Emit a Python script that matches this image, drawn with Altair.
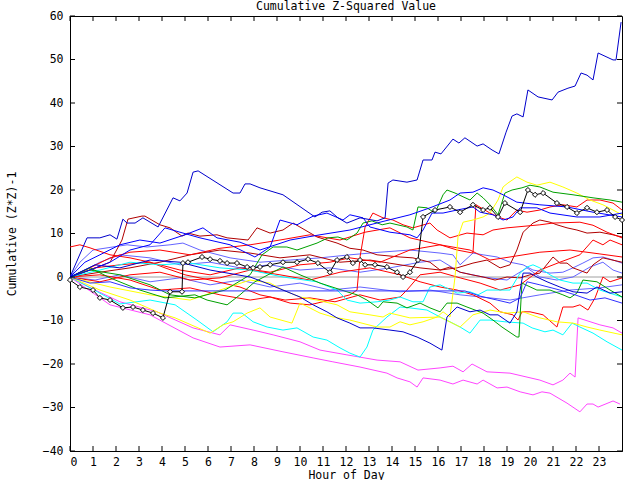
import altair as alt
import pandas as pd

TITLE = "Cumulative Z-Squared Value"
HOUR_TICKS = list(range(0, 24))
VALUE_TICKS = list(range(-40, 61, 10))

TOP_BLUE = [(0,0),(0.74,9.0),(1.30,9.0),(1.74,9.7),(2.04,8.7),(2.30,13.3),(2.48,12.4),(2.83,12.4),(3.17,13.6),(3.83,11.5),(4.48,18.2),(4.78,17.5),(5.09,19.3),(5.35,24.1),(5.57,24.4),(7.09,19.3),(7.39,19.3),(7.61,21.4),(7.83,21.4),(8.26,20.5),(9.26,18.9),(10.65,13.8),(10.96,14.9),(11.30,15.2),(11.65,13.6),(12.04,12.4),(12.61,13.6),(13.35,12.9),(13.70,13.6),(13.83,21.6),(14.04,22.3),(14.65,21.8),(15.09,22.3),(15.35,26.9),(15.74,26.9),(15.87,28.7),(16.13,28.3),(16.65,31.7),(16.91,30.8),(17.17,32.0),(17.70,30.1),(17.96,30.6),(18.35,29.2),(18.65,28.3),(18.96,33.3),(19.22,37.0),(19.43,37.5),(19.70,36.8),(19.91,43.0),(20.35,41.4),(20.96,40.7),(21.22,42.5),(21.65,43.4),(21.96,43.9),(22.22,46.9),(22.48,46.4),(22.74,45.3),(22.96,51.5),(23.61,49.9),(23.74,49.9),(23.96,58.6)]

BLACK = [(0,-0.7),(0.43,-2.3),(1.0,-3.0),(1.30,-4.8),(1.74,-5.3),(2.30,-7.1),(2.74,-6.9),(3.17,-7.6),(3.61,-8.3),(4.04,-9.4),(4.35,-3.4),(4.87,-3.4),(4.91,3.2),(5.13,3.4),(5.74,4.6),(6.09,4.1),(6.52,3.7),(6.83,3.2),(7.26,3.2),(7.70,2.3),(7.96,2.1),(8.26,2.3),(8.70,2.8),(9.26,3.4),(9.87,3.4),(10.35,4.1),(10.78,3.2),(11.30,1.1),(11.61,3.9),(12.04,4.6),(12.30,3.2),(12.61,3.9),(12.83,2.8),(13.26,2.8),(13.78,2.3),(14.22,1.1),(14.48,0),(14.78,1.1),(15.13,3.9),(15.35,13.8),(15.87,15.4),(16.52,16.1),(16.96,14.9),(17.52,16.6),(17.96,15.4),(18.26,15.9),(18.61,13.8),(18.91,17.0),(19.57,14.9),(19.91,20.0),(20.22,18.9),(20.57,19.3),(21.17,17.0),(21.61,16.1),(22.04,14.7),(22.48,15.9),(22.91,14.9),(23.35,15.4),(23.70,13.8),(24.0,13.1)]

MAGENTA_UPPER = [(0,0),(1.09,-3.0),(2.17,-5.7),(3.78,-8.0),(5.35,-11.7),(6.52,-13.3),(6.96,-11.0),(7.96,-12.2),(8.83,-13.3),(10.0,-14.9),(10.87,-16.8),(12.04,-17.9),(13.35,-19.1),(14.35,-19.5),(15.13,-21.4),(16.09,-20.9),(16.65,-20.5),(17.09,-21.8),(17.48,-20.0),(18.13,-21.8),(19.13,-22.1),(20.43,-23.7),(21.0,-24.8),(21.43,-23.7),(21.74,-22.1),(21.96,-23.0),(22.09,-9.4),(23.04,-11.0),(23.61,-11.7),(24.0,-12.9)]

MAGENTA_LOWER = [(0,0),(1.74,-6.4),(3.48,-8.7),(5.35,-14.0),(6.52,-16.1),(7.83,-15.6),(9.26,-17.2),(10.57,-18.6),(11.43,-19.5),(12.61,-20.7),(13.78,-22.1),(14.22,-23.2),(14.78,-24.1),(15.09,-25.3),(15.35,-23.2),(16.09,-23.7),(16.65,-24.6),(17.09,-23.7),(17.70,-24.6),(17.96,-23.7),(18.57,-25.5),(19.0,-25.3),(19.57,-26.4),(20.13,-27.1),(20.52,-26.4),(20.87,-26.7),(21.61,-29.0),(22.17,-31.0),(22.48,-29.2),(22.74,-29.2),(22.96,-29.9),(23.61,-28.5),(23.91,-29.2)]

CYAN_LOWER = [(0,0),(2.17,-6.2),(3.48,-5.3),(4.57,-6.4),(5.52,-9.9),(6.22,-12.6),(6.83,-10.3),(7.09,-8.3),(7.48,-8.3),(7.96,-10.3),(8.57,-11.5),(9.26,-12.2),(9.87,-11.7),(10.57,-13.8),(11.17,-14.5),(11.74,-16.3),(12.17,-17.5),(12.61,-18.4),(12.91,-16.1),(13.17,-12.2),(13.78,-9.2),(14.35,-6.9),(14.78,-7.1),(15.52,-7.6),(16.09,-9.2),(16.52,-10.3),(16.96,-11.5),(17.39,-12.9),(17.83,-9.9),(18.26,-9.9),(18.91,-10.3),(19.70,-10.6),(20.09,-11.7),(20.65,-12.6),(21.0,-12.2),(21.43,-13.3),(21.83,-10.6),(22.17,-11.5),(22.74,-12.9),(23.35,-14.9),(24.0,-16.8)]

CYAN_UPPER = [(0,0),(1.30,1.6),(2.61,3.4),(3.91,2.8),(5.22,3.2),(6.52,2.1),(7.83,1.6),(9.26,0),(10.74,-1.1),(11.61,-3.0),(12.04,-5.3),(12.61,-6.0),(13.35,-5.7),(13.91,-5.3),(14.35,-4.6),(14.91,-5.7),(15.35,-5.7),(15.65,-2.3),(16.09,-1.8),(16.83,-3.7),(17.39,-3.4),(17.74,-4.1),(18.13,-3.0),(19.13,-3.0),(19.57,0.9),(19.87,2.3),(20.13,2.8),(20.43,2.1),(20.87,0.5),(21.30,-0.7),(21.87,-1.4),(22.48,-1.4),(23.04,-3.0),(24.0,-4.6)]

YELLOW_HIGH = [(0,0),(1.30,-3.0),(2.61,-5.3),(3.91,-8.3),(4.57,-9.4),(6.09,-12.9),(6.65,-11.0),(7.09,-10.3),(7.70,-8.3),(8.26,-7.1),(8.70,-9.2),(9.65,-10.6),(10.0,-6.0),(10.35,-6.9),(10.87,-8.3),(11.43,-9.2),(12.17,-9.9),(13.35,-11.5),(13.91,-11.5),(14.35,-10.3),(14.78,-11.0),(15.35,-10.3),(15.96,-9.2),(16.22,-8.0),(16.52,-9.2),(16.74,0),(16.87,9.2),(17.09,12.6),(17.52,13.1),(17.96,13.8),(18.26,14.7),(18.61,17.7),(18.83,20.7),(19.04,21.6),(19.43,23.0),(19.87,21.8),(20.30,21.1),(20.87,21.8),(21.43,20.7),(22.04,19.3),(22.61,17.7),(23.17,16.6),(23.61,15.4),(24.0,14.3)]

YELLOW_LOW = [(0,0),(1.74,-2.3),(3.48,-4.1),(5.22,-5.3),(6.52,-3.0),(7.83,-0.7),(8.70,-1.4),(9.26,-3.0),(10.0,-4.6),(10.74,-5.3),(11.61,-6.4),(12.17,-8.0),(13.04,-8.7),(13.61,-9.2),(13.91,-8.3),(14.78,-9.4),(16.09,-9.2),(16.96,-11.5),(17.52,-8.7),(18.26,-7.6),(19.0,-8.3),(19.70,-8.0),(20.43,-9.4),(21.17,-10.3),(21.87,-10.6),(22.48,-11.5),(23.04,-12.2),(24.0,-13.3)]

GREEN_HIGH = [(0,0),(0.87,1.6),(2.17,0.5),(3.48,-1.8),(4.35,-4.1),(5.43,-4.8),(6.74,-3.0),(7.83,0.5),(8.35,5.1),(8.83,6.9),(9.43,6.9),(9.87,6.2),(10.74,7.8),(11.22,9.0),(11.65,9.2),(12.04,8.5),(12.48,10.1),(12.74,12.4),(13.13,12.9),(13.57,12.0),(13.91,12.4),(14.65,11.5),(14.91,10.8),(15.13,16.1),(15.52,15.9),(15.87,14.7),(16.22,18.9),(16.39,20.0),(16.74,19.3),(17.39,17.7),(17.70,19.3),(17.96,18.2),(18.26,16.6),(18.61,14.3),(18.91,19.3),(19.22,20.0),(19.65,20.5),(20.0,21.1),(20.43,20.7),(21.0,19.5),(21.87,18.9),(22.74,18.2),(23.48,17.7),(24.0,17.2)]

GREEN_LOW = [(0,0),(0.87,2.1),(1.74,-0.2),(3.04,-3.0),(4.13,-4.8),(5.43,-4.1),(5.96,-5.3),(6.83,-6.4),(7.39,-4.1),(8.04,-1.1),(9.0,1.6),(9.26,2.3),(10.0,0.5),(10.87,-1.4),(12.04,-3.4),(12.48,-4.1),(12.91,-5.3),(13.39,-7.1),(13.61,-5.7),(14.22,-6.0),(14.65,-7.1),(15.22,-6.0),(15.65,-7.1),(16.09,-8.0),(16.39,-6.0),(16.83,-6.0),(17.26,-6.9),(17.96,-8.3),(18.39,-9.9),(18.78,-11.5),(19.43,-13.8),(19.52,-13.8),(19.65,-1.4),(20.30,-3.0),(20.87,-3.0),(21.43,-4.1),(21.74,-4.8),(22.04,-3.7),(22.30,-0.7),(22.91,-1.1),(23.48,-3.0),(24.0,-4.6)]

BLUE_DEEP = [(0,0),(1.09,2.8),(2.17,2.1),(3.48,3.9),(4.78,3.4),(6.09,1.6),(7.83,0),(8.39,-1.1),(9.26,-3.0),(10.0,-4.6),(10.57,-6.4),(11.17,-8.0),(11.61,-9.4),(12.17,-10.6),(12.61,-11.7),(13.17,-11.7),(13.91,-12.2),(14.48,-12.6),(15.09,-13.8),(15.65,-15.2),(16.17,-16.8),(16.30,-12.2),(16.39,-9.2),(16.83,-6.9),(17.39,-8.0),(17.83,-7.6),(18.26,-8.7),(18.61,-8.7),(19.13,-10.6),(19.43,-8.0),(19.57,-3.0),(19.70,0.9),(20.0,0.9),(20.30,0),(20.74,-1.1),(21.30,-2.3),(21.87,-3.4),(22.48,-3.7),(22.91,-2.3),(23.48,-3.7),(24.0,-3.4)]

BLUE_FLAT = [(0,0),(0.87,-1.4),(1.74,-1.1),(2.61,-2.5),(3.48,-3.0),(4.13,-3.2),(17.17,-3.2),(17.83,-4.4),(18.57,-5.3),(19.13,-6.0),(19.57,-4.8),(19.87,-1.1),(20.43,-1.8),(21.30,-3.0),(21.96,-4.1),(22.61,-5.3),(23.26,-4.8),(24.0,-6.0)]

BLUE_MID = [(0,0),(0.87,1.6),(1.74,3.4),(2.61,6.2),(3.48,7.4),(4.13,11.3),(4.78,10.3),(5.65,9.0),(6.96,7.4),(8.04,4.6),(8.70,6.9),(9.13,13.1),(9.87,12.0),(10.57,14.0),(11.17,14.7),(11.87,13.1),(12.17,14.3),(12.74,13.6),(13.04,11.5),(13.91,10.3),(14.78,9.7),(15.09,9.0),(15.35,10.8),(15.74,14.7),(16.22,14.7),(16.83,15.4),(17.52,16.1),(17.83,14.9),(18.39,14.3),(18.83,13.1),(19.26,13.8),(19.57,15.9),(20.30,15.9),(20.87,14.7),(22.04,13.8),(23.04,13.8),(24.0,14.7)]

BLUE_UP = [(0,0),(0.65,3.4),(1.30,5.1),(2.17,7.4),(3.04,8.5),(3.91,7.8),(5.0,9.7),(5.78,11.3),(6.39,9.0),(7.39,8.0),(8.26,6.2),(9.57,8.5),(10.87,9.7),(12.17,10.8),(13.48,12.6),(14.78,14.3),(15.65,15.9),(16.52,17.7),(16.96,19.3),(17.52,19.5),(17.96,20.5),(18.39,20.0),(18.83,18.9),(19.43,17.2),(20.43,16.6),(21.61,16.1),(22.74,14.9),(24.0,13.8)]

GRAY_ZERO = [(0,0),(24,0)]

RED_A = [(0,0),(1.30,0.5),(2.61,-0.7),(3.91,-3.0),(5.22,-2.5),(6.52,-4.1),(7.83,-5.3),(8.70,-4.6),(9.57,-6.0),(10.43,-6.4),(11.30,-5.3),(12.17,-4.1),(12.48,-3.0),(12.61,4.6),(12.83,11.5),(13.17,14.7),(13.61,13.6),(14.04,13.1),(14.48,12.0),(14.91,11.3),(15.65,12.4),(15.96,10.8),(16.52,9.0),(17.26,10.1),(17.96,9.7),(18.39,10.8),(19.0,11.3),(20.43,12.0),(21.0,12.4),(22.17,12.6),(22.74,11.9),(23.35,10.3),(24.0,9.0)]

RED_B = [(0,0),(1.09,2.1),(2.17,2.8),(3.48,3.4),(4.78,1.6),(6.09,0.5),(7.39,2.1),(8.70,1.1),(10.0,2.8),(11.30,3.4),(12.17,4.4),(13.48,3.4),(14.78,6.2),(16.09,7.4),(16.83,6.2),(17.52,5.5),(17.65,16.6),(18.26,14.7),(18.61,13.8),(19.0,13.1),(19.43,15.4),(19.87,14.9),(20.43,15.4),(20.87,16.1),(21.43,16.6),(22.04,16.1),(22.48,17.7),(23.04,17.7),(23.61,17.0),(24.0,15.4)]

RED_C = [(0,0),(1.30,-1.1),(2.61,0.5),(3.91,1.1),(5.22,-0.7),(6.52,-0.2),(7.83,1.6),(9.13,0.5),(10.43,-0.7),(11.74,1.1),(13.04,2.1),(14.35,0.5),(15.22,-1.1),(16.09,-2.3),(16.83,-3.0),(17.52,-4.1),(18.26,-6.0),(18.70,-8.0),(19.26,-8.7),(19.48,-9.9),(19.65,-8.0),(20.0,-8.0),(20.57,-8.7),(21.17,-11.5),(21.43,-6.9),(21.87,-6.9),(22.17,-6.4),(22.52,-7.6),(22.83,-4.8),(23.17,0),(23.48,-1.1),(24.0,-0.2)]

RED_E = [(0,6.9),(0.43,7.4),(0.87,6.7),(1.74,5.1),(2.61,4.4),(3.48,3.4),(4.13,2.1),(5.0,0.5),(6.09,-0.7),(7.39,-2.3),(8.26,-4.1),(9.35,-5.3),(10.43,-4.8),(11.52,-5.7),(12.61,-4.1),(13.48,-5.3),(14.35,-4.6),(14.65,-3.0),(15.22,0.5),(16.09,1.1),(16.96,-0.2),(17.83,-1.4),(18.70,-3.0),(19.57,-1.8),(20.43,1.6),(21.30,3.4),(22.17,5.1),(22.74,8.5),(23.17,7.4),(23.48,8.5),(24.0,7.4)]

RED_F = [(0,0),(0.87,2.1),(1.74,4.4),(2.61,5.7),(3.91,6.2),(5.22,5.1),(6.52,6.6),(7.83,7.4),(9.13,8.5),(10.43,9.7),(11.74,8.5),(12.83,10.3),(13.91,11.3),(14.78,9.0),(16.09,7.4),(17.39,6.2),(18.26,3.9),(19.13,4.6),(20.43,5.7),(21.74,6.2),(23.04,5.3),(24.0,4.6)]

DARKRED_A = [(0,0),(0.87,1.6),(1.74,3.4),(2.26,8.5),(2.52,13.3),(3.13,14.0),(3.26,14.0),(3.91,12.0),(4.35,11.3),(4.87,9.4),(5.13,10.1),(5.65,9.4),(6.39,9.7),(6.83,9.0),(7.74,8.5),(8.13,11.3),(8.70,10.1),(9.26,10.8),(9.70,12.4),(10.74,9.2),(11.61,7.8),(12.17,6.6),(12.74,6.2),(13.35,5.1),(14.35,4.6),(14.91,4.4),(15.65,3.4),(16.09,1.6),(16.83,2.1),(17.52,3.2),(18.13,3.9),(18.70,2.1),(19.13,2.8),(19.43,6.2),(19.70,10.3),(20.13,12.4),(20.43,13.1),(20.87,12.6),(21.17,12.0),(21.61,11.3),(22.04,10.8),(22.48,10.1),(23.04,10.3),(23.61,9.7),(24.0,9.2)]

DARKRED_B = [(0,0),(1.30,1.1),(2.61,2.1),(3.91,3.4),(5.22,5.1),(6.52,6.2),(7.83,5.5),(9.13,4.4),(10.43,5.1),(11.74,3.4),(13.04,3.9),(14.35,2.8),(15.22,2.1),(16.09,1.6),(16.52,2.3),(16.96,1.1),(17.48,0.5),(17.96,0),(18.48,-0.7),(19.0,0),(19.57,-0.2),(20.0,0.5),(20.43,0.9),(21.0,4.6),(21.30,3.2),(21.61,3.2),(21.87,2.1),(22.48,0.9),(22.74,2.8),(23.17,4.4),(24.0,3.4)]

LIGHTBLUE_A = [(0,0),(0.43,3.4),(1.0,6.2),(2.48,7.4),(3.35,6.9),(4.35,7.4),(4.91,7.8),(5.65,6.2),(6.96,4.4),(8.26,3.4),(9.57,3.9),(10.87,4.4),(12.17,5.1),(13.48,5.7),(14.78,6.2),(16.09,5.5),(16.65,5.1),(16.96,2.8),(17.52,5.5),(17.96,5.1),(18.57,4.6),(19.13,3.4),(19.70,2.8),(20.13,1.6),(20.87,0.9),(21.43,1.1),(21.87,2.1),(22.30,3.2),(22.74,4.4),(23.17,4.6),(23.61,3.9),(24.0,3.2)]

LIGHTBLUE_B = [(0,0),(0.65,1.6),(1.30,3.4),(2.17,5.1),(3.48,4.4),(4.78,2.8),(6.09,3.4),(7.39,2.1),(8.70,2.8),(10.0,1.6),(11.30,2.1),(12.61,1.1),(13.91,2.1),(15.22,3.4),(16.09,3.9),(16.96,1.1),(17.96,0),(19.0,-0.7),(19.87,2.1),(20.43,0),(21.17,-0.7),(21.87,0),(22.61,2.3),(23.17,3.4),(23.61,1.6),(24.0,0.9)]

LIGHTBLUE_C = [(0,0),(1.09,-0.7),(2.17,0.5),(3.48,-1.1),(4.78,-0.2),(6.09,-1.8),(7.39,-0.7),(8.70,-2.3),(10.0,-1.4),(11.30,-3.0),(12.61,-2.3),(14.35,-3.4),(15.65,-3.0),(16.96,-4.1),(18.26,-4.8),(19.13,-5.3),(20.43,-4.1),(21.74,-3.0),(23.04,-2.5),(24.0,-1.8)]

SERIES = [
    ("gray_zero", GRAY_ZERO, "#a0a0a0"),
    ("lightblue_c", LIGHTBLUE_C, "#6464ff"),
    ("lightblue_b", LIGHTBLUE_B, "#6464ff"),
    ("lightblue_a", LIGHTBLUE_A, "#6464ff"),
    ("darkred_b", DARKRED_B, "#b00000"),
    ("darkred_a", DARKRED_A, "#b00000"),
    ("red_f", RED_F, "#ff0000"),
    ("red_e", RED_E, "#ff0000"),
    ("red_c", RED_C, "#ff0000"),
    ("red_b", RED_B, "#ff0000"),
    ("red_a", RED_A, "#ff0000"),
    ("magenta_upper", MAGENTA_UPPER, "#ff44ff"),
    ("magenta_lower", MAGENTA_LOWER, "#ff44ff"),
    ("cyan_lower", CYAN_LOWER, "#00ffff"),
    ("cyan_upper", CYAN_UPPER, "#00ffff"),
    ("yellow_low", YELLOW_LOW, "#ffff00"),
    ("yellow_high", YELLOW_HIGH, "#ffff00"),
    ("green_low", GREEN_LOW, "#00a000"),
    ("green_high", GREEN_HIGH, "#00a000"),
    ("blue_flat", BLUE_FLAT, "#3030ff"),
    ("blue_deep", BLUE_DEEP, "#0000cc"),
    ("blue_mid", BLUE_MID, "#0000ff"),
    ("blue_up", BLUE_UP, "#0000ff"),
    ("black", BLACK, "#000000"),
    ("top_blue", TOP_BLUE, "#0000cc"),
]

rows = []
for order, (name, pts, _) in enumerate(SERIES):
    for i, (h, v) in enumerate(pts):
        rows.append({"series": name, "hour": h, "value": v, "i": i})
df = pd.DataFrame(rows)
black_df = df[df["series"] == "black"]

FONT = "DejaVu Sans Mono"
W, H = 552, 435
xs = alt.Scale(domain=[0, 24], nice=False, zero=False)
ys = alt.Scale(domain=[-40, 60], nice=False, zero=False)

x_axis = alt.Axis(values=HOUR_TICKS, tickSize=0, labelPadding=5, grid=False,
                  title="Hour of Day", titleY=27, titleBaseline="alphabetic",
                  labelFont=FONT, labelFontSize=11.5, labelColor="black",
                  titleFont=FONT, titleFontSize=11.5, titleFontWeight="normal",
                  titleColor="black", domainColor="black")
y_axis = alt.Axis(values=VALUE_TICKS, tickSize=0, labelPadding=7, grid=False,
                  title="Cumulative (Z*Z)-1", titleX=-58, titleY=H / 2,
                  titleAngle=-90, titleAlign="center", titleBaseline="middle",
                  labelFont=FONT, labelFontSize=11.5, labelColor="black",
                  titleFont=FONT, titleFontSize=11.5, titleFontWeight="normal",
                  titleColor="black", domainColor="black")

lines = alt.Chart(df).mark_line(strokeWidth=1, clip=True).encode(
    x=alt.X("hour:Q", scale=xs, axis=x_axis, title="Hour of Day"),
    y=alt.Y("value:Q", scale=ys, axis=y_axis, title="Cumulative (Z*Z)-1"),
    color=alt.Color("series:N", scale=alt.Scale(domain=[s[0] for s in SERIES],
                                                range=[s[2] for s in SERIES]), legend=None),
    order=alt.Order("i:Q"),
)

diamonds = alt.Chart(black_df).mark_point(shape="diamond", filled=True, fill="white",
                                          stroke="black", strokeWidth=1, size=26, opacity=1).encode(
    x=alt.X("hour:Q", scale=xs, axis=x_axis, title="Hour of Day"),
    y=alt.Y("value:Q", scale=ys, axis=y_axis, title="Cumulative (Z*Z)-1"),
)

xt = pd.DataFrame({"hour": HOUR_TICKS})
yt = pd.DataFrame({"value": VALUE_TICKS})
tick_bottom = alt.Chart(xt).mark_rule(color="black").encode(
    x=alt.X("hour:Q", scale=xs, axis=x_axis, title="Hour of Day"),
    y=alt.value(H), y2=alt.value(H - 5))
tick_top = alt.Chart(xt).mark_rule(color="black").encode(
    x=alt.X("hour:Q", scale=xs, axis=x_axis, title="Hour of Day"),
    y=alt.value(0), y2=alt.value(5))
tick_left = alt.Chart(yt).mark_rule(color="black").encode(
    y=alt.Y("value:Q", scale=ys, axis=y_axis, title="Cumulative (Z*Z)-1"),
    x=alt.value(0), x2=alt.value(5))
tick_right = alt.Chart(yt).mark_rule(color="black").encode(
    y=alt.Y("value:Q", scale=ys, axis=y_axis, title="Cumulative (Z*Z)-1"),
    x=alt.value(W), x2=alt.value(W - 5))

title_text = alt.Chart(pd.DataFrame({"label": [TITLE]})).mark_text(
    font=FONT, fontSize=11.5, color="black", align="center", baseline="alphabetic",
    clip=False,
).encode(text="label:N", x=alt.value(W / 2), y=alt.value(-6))

chart = alt.layer(lines, diamonds, tick_bottom, tick_top, tick_left, tick_right,
                  title_text).properties(
    width=W, height=H, background="white",
    autosize=alt.AutoSizeParams(type="none"),
    padding={"left": 70, "top": 16, "right": 18, "bottom": 29},
).configure_view(stroke="black", strokeWidth=1)

chart.save("out.html", embed_options={"renderer": "svg", "actions": False})
